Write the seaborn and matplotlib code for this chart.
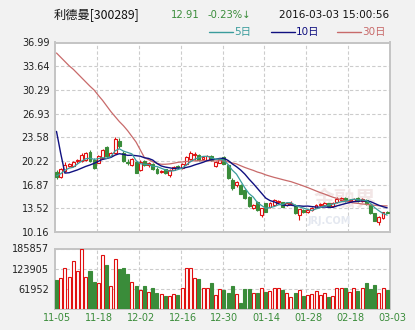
import numpy as np
import pandas as pd
import matplotlib
matplotlib.use("Agg")
import matplotlib.pyplot as plt
import matplotlib.transforms as mtransforms
from matplotlib.lines import Line2D
import seaborn as sns

# ---- daily quotes, 2015-11-05 .. 2016-03-03 (80 sessions) ----
open_ = [18.65, 17.95, 18.75, 19.45, 19.55, 20.15, 20.20, 20.40, 21.55, 20.40,
         20.00, 20.65, 22.25, 20.95, 21.35, 23.10, 21.35, 20.10, 19.70, 20.10,
         18.95, 20.25, 19.60, 19.80, 19.15, 18.72, 19.05, 18.25, 18.95, 19.50,
         19.25, 19.75, 20.50, 21.05, 21.10, 20.50, 20.40, 20.85, 19.50, 20.00,
         20.75, 19.65, 17.50, 16.85, 16.80, 16.10, 15.10, 13.60, 14.40, 12.60,
         14.20, 13.70, 14.00, 14.35, 14.35, 14.00, 14.15, 13.90, 12.60, 13.30,
         12.95, 13.30, 13.60, 13.95, 14.05, 14.20, 13.85, 14.35, 14.65, 15.00,
         14.60, 14.60, 14.95, 14.50, 14.75, 13.95, 12.80, 11.60, 12.15, 12.98]
high = [18.90, 19.25, 20.05, 19.95, 20.20, 20.45, 21.30, 21.55, 21.75, 20.60,
        21.00, 21.90, 22.40, 21.55, 23.55, 23.45, 21.60, 20.45, 20.60, 20.20,
        20.30, 20.40, 20.10, 19.95, 19.30, 19.00, 19.10, 19.05, 19.55, 19.65,
        19.90, 20.85, 21.60, 21.55, 21.25, 20.90, 21.00, 21.05, 20.25, 20.60,
        20.95, 19.75, 17.80, 17.40, 16.90, 16.30, 15.20, 14.10, 14.60, 13.60,
        14.30, 14.40, 14.80, 14.70, 14.45, 14.45, 14.50, 14.10, 13.45, 13.40,
        13.40, 13.65, 14.15, 14.30, 14.40, 14.30, 14.40, 15.05, 15.10, 15.10,
        14.85, 15.00, 15.05, 14.95, 14.85, 14.05, 12.90, 12.40, 13.05, 13.15]
low = [17.70, 17.85, 18.65, 19.30, 19.45, 20.00, 20.10, 20.20, 20.10, 19.10,
       19.90, 20.50, 20.80, 20.85, 21.20, 22.10, 20.10, 19.70, 19.50, 18.45,
       18.80, 19.50, 19.40, 18.95, 18.40, 18.55, 18.40, 18.00, 18.90, 19.15,
       19.15, 19.65, 20.40, 20.40, 20.20, 20.40, 20.30, 20.20, 19.40, 19.90,
       19.75, 17.60, 16.10, 16.60, 15.53, 14.90, 13.70, 13.45, 13.20, 12.35,
       12.95, 13.55, 13.90, 14.20, 13.65, 13.90, 14.05, 12.75, 11.90, 12.85,
       12.85, 13.20, 13.55, 13.85, 14.00, 13.70, 13.75, 14.30, 14.55, 14.45,
       14.45, 14.50, 14.40, 14.40, 14.00, 12.75, 11.65, 11.15, 12.05, 12.80]
close = [17.95, 19.05, 19.70, 19.80, 20.10, 20.30, 21.10, 21.35, 20.20, 19.25,
         20.85, 21.80, 20.90, 21.40, 23.30, 22.30, 20.15, 19.95, 20.45, 18.55,
         20.10, 19.65, 19.90, 19.05, 18.50, 18.85, 18.50, 18.95, 19.40, 19.30,
         19.80, 20.75, 21.30, 21.20, 20.30, 20.75, 20.85, 20.30, 20.10, 20.45,
         19.85, 17.80, 16.40, 17.25, 15.55, 14.98, 13.80, 13.95, 13.30, 13.50,
         13.05, 14.30, 14.65, 14.55, 13.75, 14.30, 14.30, 12.85, 13.35, 12.95,
         13.30, 13.55, 14.05, 14.15, 14.25, 13.80, 14.30, 14.90, 14.95, 14.55,
         14.75, 14.85, 14.50, 14.85, 14.10, 12.85, 11.75, 12.30, 12.94, 12.91]
volume = [88800, 94000, 124500, 97000, 147000, 116000, 185857, 97000, 116000, 84000,
          78600, 165000, 135000, 70000, 155000, 122500, 124500, 109000, 81600, 70000,
          58000, 70000, 51000, 63000, 48000, 45000, 40000, 40000, 45000, 43000,
          63000, 124500, 124500, 94000, 92000, 65000, 66000, 78600, 43000, 60000,
          58000, 48000, 70000, 45000, 17000, 61000, 61000, 48000, 48000, 63000,
          53000, 55000, 66000, 63000, 58000, 48000, 38000, 48000, 58000, 40000,
          43000, 45000, 55000, 43000, 48000, 37000, 40000, 66000, 65000, 65000,
          51000, 66000, 55000, 66000, 78600, 61000, 73500, 48000, 63000, 58000]

# moving-average values for the first sessions (windows reach back before 11-05)
ma5_head = [18.10, 18.40, 18.90, 19.20]
ma10_head = [24.40, 21.30, 18.50, 18.55, 18.75, 18.95, 19.20, 19.45, 19.65]
ma30_head = [35.50, 34.90, 34.30, 33.70, 33.20, 32.60, 32.00, 31.40, 30.80, 30.25,
             29.50, 28.80, 28.00, 27.20, 26.50, 25.80, 25.20, 24.50, 23.70, 22.90,
             21.80, 20.70, 20.40, 20.10, 19.90, 19.75, 19.75, 19.80, 19.90]

tick_days = [0, 9, 19, 29, 39, 49, 59, 69, 79]
tick_labels = ["11-05", "11-18", "12-02", "12-16", "12-30", "01-14", "01-28", "02-18", "03-03"]
price_ticks = [10.16, 13.52, 16.87, 20.22, 23.58, 26.93, 30.29, 33.64, 36.99]
vol_ticks = [61952, 123905, 185857]

# ---- derived series ----
df = pd.DataFrame({"day": np.arange(len(close)), "open": open_, "high": high,
                   "low": low, "close": close, "volume": volume})
def moving_average(head, n):
    ma = df["close"].rolling(n).mean().to_numpy()
    ma[:len(head)] = head
    return ma
df["ma5"] = moving_average(ma5_head, 5)
df["ma10"] = moving_average(ma10_head, 10)
df["ma30"] = moving_average(ma30_head, 30)

RED = "#e01010"
GREEN = "#3a8c3a"
C5, C10, C30 = "#3a9c9c", "#101080", "#c86a6a"
GRID = "#cccccc"
FRAME = "#c4c4c4"

sns.set_style("white")
plt.rcParams["font.family"] = ["DejaVu Sans", "Noto Sans CJK SC"]

W, H = 415, 330
fig = plt.figure(figsize=(W / 100, H / 100), dpi=100, facecolor="#f2f2f2")
ax = fig.add_axes([55 / W, 1 - 232 / H, 335 / W, (232 - 42.5) / H])
axv = fig.add_axes([55 / W, 1 - 309 / H, 335 / W, (309 - 248.5) / H])

up = df["close"] >= df["open"]
col = np.where(up, RED, GREEN)
face = np.where(up, "white", GREEN)
body_lo = np.minimum(df["open"], df["close"])
body_h = np.maximum((df["close"] - df["open"]).abs(), 0.04)

xlim = (-0.36, 79.67)
grid_x = [d + 0.67 for d in tick_days[1:-1]]

for a in (ax, axv):
    a.set_facecolor("white")
    a.set_xlim(*xlim)
    for s in a.spines.values():
        s.set_color(FRAME)
        s.set_linewidth(1.4)
    for gx in grid_x:
        a.axvline(gx, color=GRID, lw=0.8, ls=(0, (3, 2)), zorder=0)
    a.set_xticks([])
    a.tick_params(axis="y", length=0, pad=4, labelsize=7, labelcolor="#222222")
    a.yaxis.grid(True, color=GRID, lw=0.8, ls=(0, (3, 2)))
    a.set_axisbelow(True)

# watermark
ax.text(0.865, 0.175, "金融界", transform=ax.transAxes, ha="center", va="center",
        fontsize=15, fontweight="bold", color="#f2e6e6", family=["Noto Sans CJK SC"], zorder=1)
ax.text(0.82, 0.06, "JRJ.COM", transform=ax.transAxes, ha="center", va="center",
        fontsize=7, fontweight="bold", color="#e4e8f0", zorder=1)

# candles
ax.vlines(df["day"], df["low"], df["high"], colors=col, lw=0.8, zorder=2)
ax.bar(df["day"], body_h, bottom=body_lo, width=0.7, color=face, edgecolor=col,
       linewidth=0.8, zorder=3)

# moving averages
sns.lineplot(data=df, x="day", y="ma30", ax=ax, color=C30, lw=0.9, zorder=4, legend=False)
sns.lineplot(data=df, x="day", y="ma10", ax=ax, color=C10, lw=1.0, zorder=5, legend=False)
sns.lineplot(data=df, x="day", y="ma5", ax=ax, color=C5, lw=0.9, zorder=6, legend=False)

ax.set_ylim(price_ticks[0], price_ticks[-1])
ax.set_yticks(price_ticks)
ax.set_yticklabels([f"{t:.2f}" for t in price_ticks])
ax.set_xlabel("")
ax.set_ylabel("")

# volume bars
axv.bar(df["day"], df["volume"], width=0.72, color=face, edgecolor=col, linewidth=0.8, zorder=3)
axv.set_ylim(0, vol_ticks[-1])
axv.set_yticks(vol_ticks)
axv.set_yticklabels([str(v) for v in vol_ticks])
axv.set_xlabel("")
axv.set_ylabel("")

lab_tr = mtransforms.blended_transform_factory(axv.transData, axv.transAxes)
for d, lab in zip(tick_days, tick_labels):
    pos = 0.1 if d == 0 else d + 1.12
    axv.text(pos, -0.155, lab, transform=lab_tr, ha="center", va="center",
             fontsize=7, color=GREEN, clip_on=False)

# header
ty = 1 - 15 / H
fig.text(54 / W, ty, "利德曼[300289]", fontsize=8.8, family=["Noto Sans CJK SC", "DejaVu Sans"],
         ha="left", va="center", color="#111111")
fig.text(171 / W, ty, "12.91", fontsize=7.2, color=GREEN, ha="left", va="center")
fig.text(208 / W, ty, "-0.23%↓", fontsize=7.2, color=GREEN, ha="left", va="center")
fig.text(389 / W, ty, "2016-03-03 15:00:56", fontsize=7.5, color="#111111", ha="right", va="center")

ly = 1 - 32 / H
for x0, c, lab in [(209, C5, "5日"), (271, C10, "10日"), (337, C30, "30日")]:
    fig.add_artist(Line2D([x0 / W, (x0 + 24) / W], [ly, ly], color=c, lw=1.0,
                          transform=fig.transFigure))
    fig.text((x0 + 25) / W, ly, lab, fontsize=7.5, color=c, ha="left", va="center",
             family=["DejaVu Sans", "Noto Sans CJK SC"])

fig.savefig("out.png", dpi=100, facecolor=fig.get_facecolor())
